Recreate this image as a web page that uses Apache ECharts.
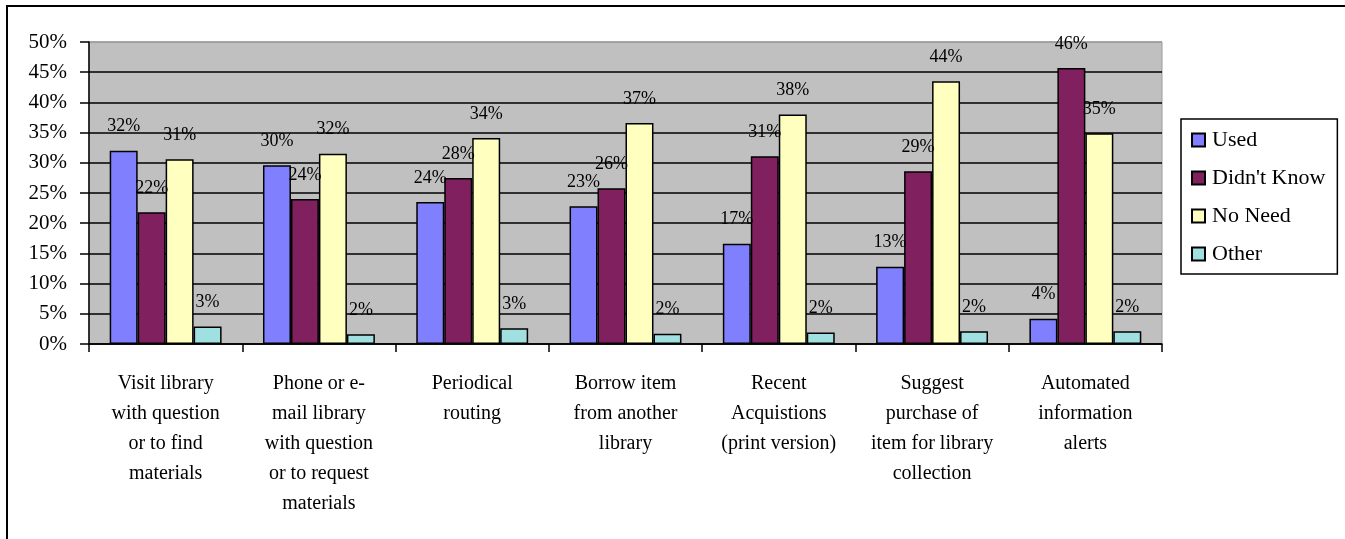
<!DOCTYPE html>
<html>
<head>
<meta charset="utf-8">
<script src="https://cdn.jsdelivr.net/npm/echarts@6/dist/echarts.min.js"></script>
<style>
  html, body { margin: 0; padding: 0; background: #ffffff; }
  #chart { width: 1345px; height: 539px; }
</style>
</head>
<body>
<div id="chart"></div>
<script>
// Library services survey: share of respondents per answer (percent)
const categories = [
  'Visit library\nwith question\nor to find\nmaterials',
  'Phone or e-\nmail library\nwith question\nor to request\nmaterials',
  'Periodical\nrouting',
  'Borrow item\nfrom another\nlibrary',
  'Recent\nAcquistions\n(print version)',
  'Suggest\npurchase of\nitem for library\ncollection',
  'Automated\ninformation\nalerts'
];
const used       = [32.0, 29.6, 23.5, 22.8, 16.6, 12.8, 4.2];
const didntKnow  = [21.8, 24.0, 27.5, 25.8, 31.1, 28.6, 45.7];
const noNeed     = [30.6, 31.5, 34.1, 36.6, 38.0, 43.5, 34.9];
const other      = [2.9, 1.6, 2.6, 1.7, 1.9, 2.1, 2.1];
const yTicks     = ['0%', '5%', '10%', '15%', '20%', '25%', '30%', '35%', '40%', '45%', '50%'];

const seriesNames  = ['Used', "Didn't Know", 'No Need', 'Other'];
const seriesValues = [used, didntKnow, noNeed, other];
const seriesColors = ['#8080ff', '#80205f', '#ffffc0', '#a0e0e0'];

const serif = '"Liberation Serif", "DejaVu Serif", serif';

// Gridlines are black; the top edge of the plot area is grey like its border
const gridColors = yTicks.map((t, i) => i === yTicks.length - 1 ? '#9a9a9a' : '#000000');

const chart = echarts.init(document.getElementById('chart'), null, { renderer: 'canvas' });

chart.setOption({
  backgroundColor: '#ffffff',
  animation: false,
  graphic: [{
    type: 'rect',
    shape: { x: 7, y: 6, width: 1400, height: 600 },
    style: { fill: 'none', stroke: '#000000', lineWidth: 2 },
    silent: true
  }],
  grid: {
    left: 89, right: 183, top: 42, bottom: 195,
    show: true,
    backgroundColor: '#c0c0c0',
    borderColor: '#9a9a9a',
    borderWidth: 1
  },
  legend: {
    orient: 'vertical',
    left: 1181,
    top: 119,
    padding: [10, 12, 9, 10],
    itemGap: 16,
    itemWidth: 13,
    itemHeight: 13,
    borderColor: '#000000',
    borderWidth: 1.5,
    backgroundColor: '#ffffff',
    icon: 'rect',
    data: seriesNames,
    textStyle: { fontFamily: serif, fontSize: 22, color: '#000000', padding: [0, 0, 0, 2], lineHeight: 22 }
  },
  xAxis: {
    type: 'category',
    data: categories,
    boundaryGap: true,
    axisLine: { show: true, lineStyle: { color: '#000000', width: 1.5 } },
    axisTick: { show: true, length: 8, alignWithLabel: false, lineStyle: { color: '#000000', width: 1.5 } },
    axisLabel: {
      interval: 0,
      margin: 25,
      fontFamily: serif,
      fontSize: 20,
      lineHeight: 30,
      color: '#000000',
      align: 'center',
      verticalAlign: 'top'
    },
    splitLine: { show: false }
  },
  yAxis: {
    type: 'value',
    min: 0,
    max: 50,
    interval: 5,
    axisLine: { show: true, lineStyle: { color: '#000000', width: 1.5 } },
    axisTick: { show: true, length: 9, lineStyle: { color: '#000000', width: 1.5 } },
    axisLabel: {
      margin: 22,
      fontFamily: serif,
      fontSize: 21,
      color: '#000000',
      formatter: function (v) { return yTicks[Math.round(v / 5)]; }
    },
    splitLine: { show: true, lineStyle: { color: gridColors, width: 1.5 } }
  },
  series: seriesNames.map((name, i) => ({
    name: name,
    type: 'bar',
    data: seriesValues[i],
    barGap: '0%',
    barCategoryGap: '27%',
    itemStyle: { color: seriesColors[i], borderColor: '#000000', borderWidth: 1.5 },
    label: {
      show: true,
      position: 'top',
      distance: 15,
      fontFamily: serif,
      fontSize: 18,
      color: '#000000',
      formatter: function (p) { return Math.round(p.value) + '%'; }
    }
  }))
});
</script>
</body>
</html>
